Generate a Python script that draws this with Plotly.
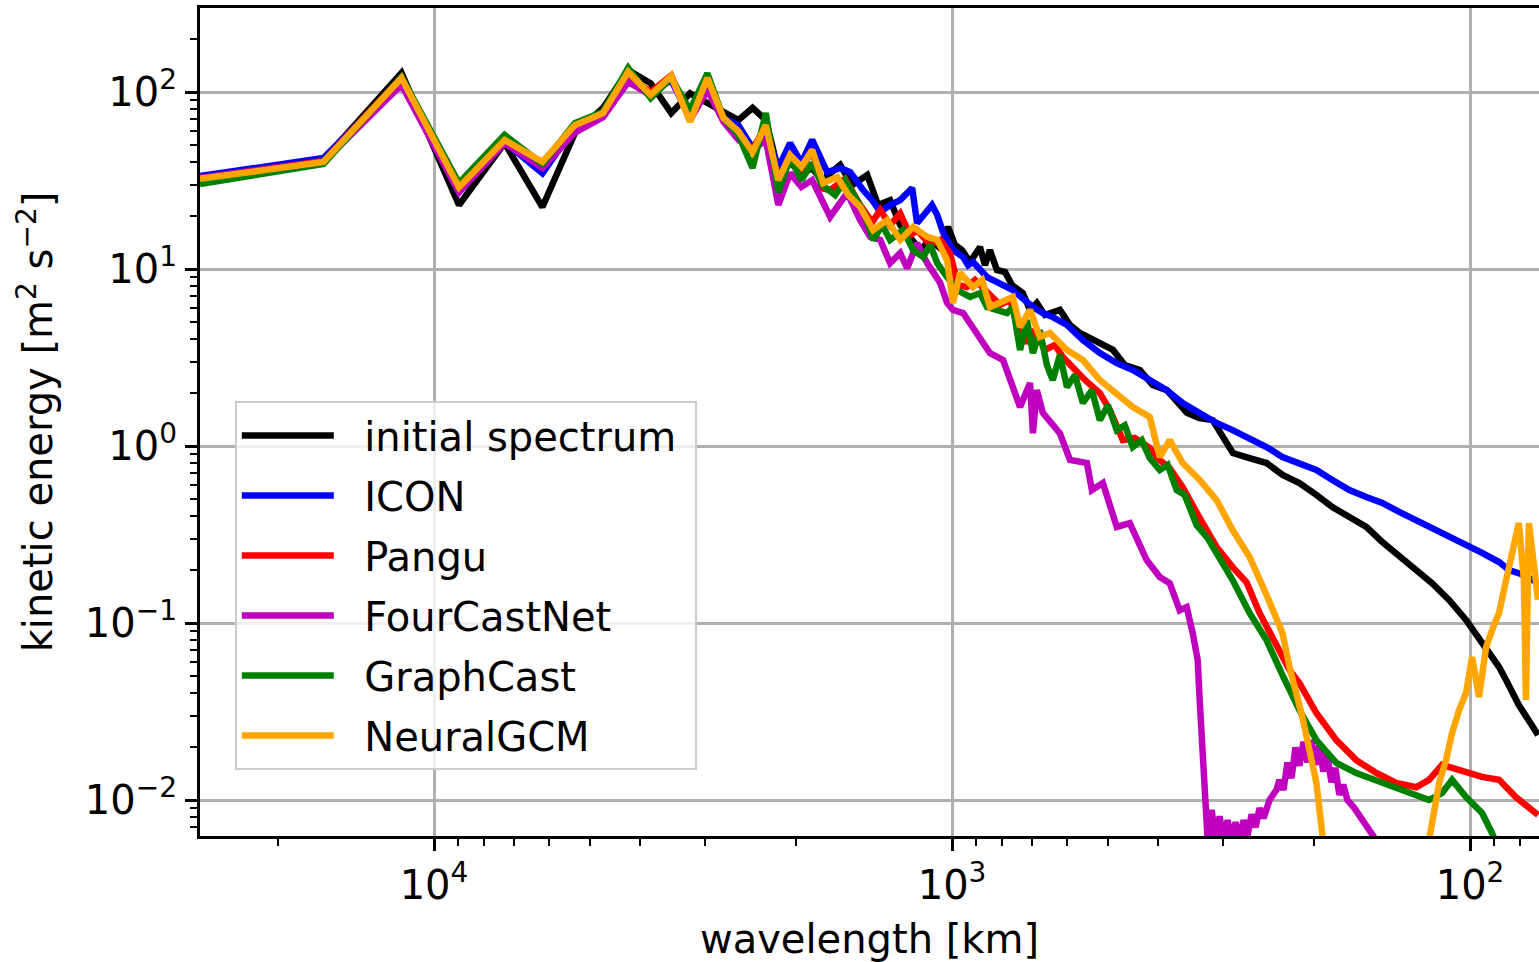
import math
import plotly.graph_objects as go

# ---------------- data (wavelength in km, kinetic energy in m^2 s^-2) ----------------
# wavelengths of the first 21 spherical-harmonic wavenumbers
WL_LOW = [28306, 16343, 11556, 8951, 7308, 6177, 5349, 4718, 4219, 3817, 3484,
          3205, 2967, 2762, 2584, 2427, 2288, 2165, 2054, 1953, 1862]

INIT_LOW = [33.1, 41.3, 128, 23.0, 51.5, 22.4, 58.6, 81.3, 133, 112, 76,
            98.3, 86.7, 77.4, 69.5, 81.3, 69.5, 36.3, 39.8, 35.0, 37.0]
ICON_LOW = [33.5, 42.4, 117, 27.2, 52.2, 34.8, 63.5, 75.1, 114, 98.3, 117,
            71.3, 110, 71.3, 65, 48.3, 61, 37.2, 51.5, 39.8, 53.6]
PANGU_LOW = [32.7, 40.8, 121, 28.6, 52.9, 39.8, 64.3, 76, 122, 100, 124,
             69.5, 117, 71.3, 55, 47, 65, 31.8, 44, 37.2, 47]
FCN_LOW = [32.7, 40.3, 110, 27.2, 51.5, 37.2, 59, 72, 114, 96, 120,
           69.5, 102.6, 68, 53.6, 47, 53.6, 23.0, 34.8, 29.1, 31.8]
GC_LOW = [30.2, 39.2, 122, 30.6, 57.2, 39.2, 66.6, 77.4, 136.7, 92.5, 120,
          79, 127.6, 71.3, 57.2, 37.2, 76, 27.2, 42.4, 31.8, 39.8]
NGCM_LOW = [32.3, 40.3, 120, 29.0, 53.6, 40.3, 65, 76, 130, 96.2, 123,
            68, 120, 71.3, 60, 45.8, 65, 31.8, 44, 37.8, 47]

# (wavelength km, energy) pairs for the shorter wavelengths
INIT_HI = [(1781, 31.8), (1644, 38.7), (1559, 29.8), (1458, 34.0), (1389, 23.0), (1317, 24.5),
           (1259, 17.7), (1194, 14.6), (1152, 12.8), (1102, 14.6), (1054, 13.1), (1018, 17.3),
           (987, 13.7), (957, 12.8), (923, 10.95), (883, 13.3), (864, 10.5), (845, 12.8),
           (819, 9.87), (790, 9.62), (766, 8.12), (730, 7.32), (707, 5.87), (686, 6.43),
           (662, 5.50), (619, 5.87), (592, 4.83), (566.5, 4.35), (530, 3.97), (489, 3.49),
           (464, 2.87), (434, 2.69), (410, 2.21), (385, 2.07), (352, 1.54), (333, 1.44),
           (314, 1.40), (298, 1.08), (287, 0.913), (266.5, 0.855), (247, 0.801), (230, 0.686),
           (213.5, 0.618), (198, 0.529), (184.4, 0.452), (171, 0.397), (158.6, 0.349),
           (147.7, 0.287), (137, 0.236), (127.1, 0.199), (118.4, 0.168), (109.8, 0.135),
           (101.8, 0.104), (94.8, 0.0771), (87.9, 0.0564), (85.2, 0.0476), (80.5, 0.0344),
           (73.9, 0.0233)]

ICON_HI = [(1742, 35.3), (1644, 37.2), (1572, 35.3), (1484, 27.9), (1426, 24.5), (1376, 21.0),
           (1317, 23.0), (1259, 24.5), (1194, 28.7), (1168, 18.2), (1127, 21.0), (1093, 23.0),
           (1068, 20.2), (1040, 16.0), (996, 12.8), (952, 11.7), (931, 10.5), (911, 10.95),
           (856, 9.01), (808, 8.33), (763, 7.61), (698, 6.10), (668, 5.64), (639, 5.35),
           (600, 4.83), (559, 3.97), (518.4, 3.35), (480.8, 2.94), (447.8, 2.69), (415.3, 2.36),
           (385.1, 2.07), (358.7, 1.75), (332.6, 1.54), (308.5, 1.35), (287.3, 1.23),
           (266.5, 1.11), (247.1, 0.987), (230.2, 0.867), (213.5, 0.801), (198, 0.732),
           (184.4, 0.643), (171, 0.564), (158.6, 0.515), (147.7, 0.477), (137, 0.424),
           (127.1, 0.382), (118.4, 0.344), (109.8, 0.306), (101.8, 0.276), (94.8, 0.249),
           (87.9, 0.221), (84.1, 0.199), (78.7, 0.187), (73.9, 0.168)]

PANGU_HI = [(1781, 28.6), (1719, 27.9), (1608, 32.3), (1504, 23.0), (1426, 18.4), (1376, 21.5),
            (1317, 17.7), (1259, 20.6), (1205, 15.5), (1168, 16.6), (1102, 13.7), (1054, 14.6),
            (1009, 12.3), (974, 8.12), (936, 7.91), (903, 8.67), (856, 7.32), (808, 6.27),
            (773, 6.68), (739, 4.52), (717, 3.82), (692, 4.52), (662, 3.49), (633, 3.72),
            (611, 3.18), (579, 2.69), (554, 2.36), (518.4, 1.99), (495.9, 1.60), (468.1, 1.08),
            (443.8, 1.11), (415.3, 0.974), (397.2, 0.834), (380, 0.75), (358.7, 0.586),
            (332.6, 0.392), (308.5, 0.269), (287.3, 0.207), (270, 0.170), (254.9, 0.114),
            (236.4, 0.0732), (223.1, 0.0542), (213.5, 0.0458), (198, 0.031), (181.2, 0.0218),
            (165.8, 0.0168), (151.7, 0.0142), (138.8, 0.0125), (127.1, 0.0118), (120, 0.0130),
            (113.2, 0.0158), (105, 0.0148), (94.8, 0.0135), (87.9, 0.0130), (81.6, 0.0104),
            (73.9, 0.00823)]

FCN_HI = [(1781, 24.5), (1719, 19.7), (1594, 26.9), (1504, 18.9), (1439, 15.2), (1376, 14.6),
          (1317, 10.8), (1259, 12.3), (1221, 10.1), (1168, 14.0), (1117, 10.8), (1054, 8.33),
          (1022, 6.43), (996, 5.87), (952, 5.64), (895, 4.35), (845, 3.35), (797, 3.06),
          (766, 2.21), (739, 1.66), (707, 2.27), (698, 1.18), (686, 2.07), (668, 1.54),
          (619, 1.18), (592, 0.834), (549, 0.801), (537, 0.564), (511.5, 0.618), (480.8, 0.349),
          (453.8, 0.367), (421, 0.227), (397.2, 0.182), (380, 0.168), (363.5, 0.118),
          (352.4, 0.123), (343.1, 0.0878), (335.6, 0.0618), (332.6, 0.0367), (326.8, 0.0130),
          (321.0, 0.0059), (315.4, 0.0088), (309.9, 0.0058), (304.4, 0.0081), (299.0, 0.0058),
          (293.8, 0.0077), (288.6, 0.0058), (283.5, 0.0075), (278.5, 0.0059), (273.6, 0.0077),
          (268.9, 0.0063), (264.1, 0.0083), (259.5, 0.0070), (254.9, 0.0090), (250.4, 0.0079),
          (243.8, 0.0100), (236.4, 0.0114), (233.3, 0.0130), (229.2, 0.0114), (225.1, 0.0163),
          (221.1, 0.0133), (217.3, 0.0198), (213.5, 0.0156), (209.7, 0.0213), (206.0, 0.0163),
          (202.4, 0.0218), (198.9, 0.0158), (195.4, 0.0205), (192.0, 0.0145), (188.6, 0.0180),
          (185.2, 0.0126), (182.0, 0.0152), (178.8, 0.0107), (175.7, 0.0122), (172.5, 0.0100),
          (167.2, 0.0090), (161.4, 0.0077), (151.7, 0.0059), (143.2, 0.0046)]

GC_HI = [(1781, 29.8), (1681, 26.2), (1608, 31.8), (1538, 25.5), (1471, 20.2), (1420, 14.6),
         (1364, 17.7), (1317, 14.6), (1243, 16.6), (1189, 12.8), (1137, 11.7), (1102, 13.7),
         (1068, 10.8), (1022, 9.01), (978, 7.61), (923, 6.95), (883, 7.32), (856, 6.10),
         (808, 5.87), (783, 5.64), (763, 6.1), (739, 3.49), (717, 5.15), (698, 3.35),
         (677, 4.52), (656, 2.87), (639, 2.36), (619, 3.27), (600, 2.15), (579, 2.52),
         (559, 1.75), (537, 2.07), (518.4, 1.40), (500, 1.70), (480.8, 1.23), (464, 1.31),
         (447.8, 0.987), (430.3, 1.08), (415.3, 0.855), (397.2, 0.732), (383.4, 0.781),
         (368.4, 0.564), (355.5, 0.529), (337.1, 0.357), (321, 0.302), (308.5, 0.249),
         (287.3, 0.175), (266.5, 0.114), (247.1, 0.0801), (230.2, 0.0508), (213.5, 0.0322),
         (198, 0.0218), (181.2, 0.0162), (165.8, 0.0142), (147.7, 0.0125), (131.1, 0.01095),
         (120, 0.0100), (113.2, 0.01095), (108.3, 0.0130), (101.8, 0.0104), (94.8, 0.00844),
         (90.7, 0.00651), (87.9, 0.0052)]

NGCM_HI = [(1773, 30.6), (1666, 33.1), (1586, 26.2), (1504, 22.4), (1420, 16.6), (1334, 18.9),
           (1259, 14.6), (1189, 17.3), (1117, 15.2), (1068, 14.6), (1022, 11.2), (996, 6.43),
           (965, 9.49), (911, 7.91), (875, 8.67), (845, 6.10), (808, 6.43), (763, 6.95),
           (739, 4.70), (707, 5.87), (677, 4.13), (647, 4.35), (600, 3.49), (559, 3.06),
           (518.4, 2.36), (480.8, 1.99), (447.8, 1.66), (415.3, 1.46), (397.2, 0.867),
           (380, 1.08), (358.7, 0.801), (332.6, 0.643), (308.5, 0.495), (287.3, 0.335),
           (266.5, 0.236), (247.1, 0.144), (230.2, 0.0878), (223.1, 0.0564), (210.7, 0.0294),
           (198, 0.0125), (192.8, 0.00651), (190.3, 0.0046), (149.7, 0.002), (120, 0.00594),
           (114.7, 0.0125), (111.3, 0.0168), (108.3, 0.0239), (105, 0.0322), (101.8, 0.0402),
           (99.1, 0.0643), (96.1, 0.0382), (93.1, 0.0732), (89.9, 0.0974), (87.9, 0.114),
           (86.0, 0.154), (84.1, 0.207), (82.3, 0.276), (80.5, 0.367), (78.7, 0.175),
           (78.0, 0.0367), (77.0, 0.367), (75.3, 0.227), (73.9, 0.135)]

SERIES_NAMES = ["initial spectrum", "ICON", "Pangu", "FourCastNet", "GraphCast", "NeuralGCM"]
SERIES_COLORS = ["#000000", "#0000ff", "#ff0000", "#bf00bf", "#008000", "#ffa500"]
SERIES_LOW = [INIT_LOW, ICON_LOW, PANGU_LOW, FCN_LOW, GC_LOW, NGCM_LOW]
SERIES_HI = [INIT_HI, ICON_HI, PANGU_HI, FCN_HI, GC_HI, NGCM_HI]

X_TICKS = [1e4, 1e3, 1e2]
X_TICKTEXT = ["10<sup>4</sup>", "10<sup>3</sup>", "10<sup>2</sup>"]
Y_TICKS = [1e-2, 1e-1, 1e0, 1e1, 1e2]
Y_TICKTEXT = ["10<sup>\u22122</sup>", "10<sup>\u22121</sup>", "10<sup>0</sup>",
              "10<sup>1</sup>", "10<sup>2</sup>"]
X_LIMITS = [28300, 73.6]     # km, axis runs from long to short wavelengths
Y_LIMITS = [0.00626, 298.4]

# ---------------- figure ----------------
NBSP = "\u00a0"
fig = go.Figure()
for name, color, low, hi in zip(SERIES_NAMES, SERIES_COLORS, SERIES_LOW, SERIES_HI):
    xs = WL_LOW + [p[0] for p in hi]
    ys = low + [p[1] for p in hi]
    fig.add_trace(go.Scatter(x=xs, y=ys, mode="lines",
                             name=NBSP * 2 + name + NBSP, legendgroup=name,
                             line=dict(color=color, width=6.5)))

x_minor = [k * 10 ** e for e in range(1, 5) for k in range(2, 10)]
x_minor = [v for v in x_minor if X_LIMITS[1] <= v <= X_LIMITS[0]]
y_minor = [k * 10 ** e for e in range(-3, 3) for k in range(2, 10)]
y_minor = [v for v in y_minor if Y_LIMITS[0] <= v <= Y_LIMITS[1]]

FONT = "DejaVu Sans"
fig.update_layout(
    width=1539, height=962,
    margin=dict(l=200, r=0, t=8, b=126),
    paper_bgcolor="white", plot_bgcolor="white",
    font=dict(family=FONT, size=40, color="black"),
    showlegend=True,
    legend=dict(x=0.026, y=0.5254, xanchor="left", yanchor="top",
                bgcolor="rgba(255,255,255,0.8)", bordercolor="#cccccc", borderwidth=2,
                font=dict(family=FONT, size=40, color="black"),
                itemwidth=92, tracegroupgap=5, traceorder="grouped"),
    xaxis=dict(type="log", range=[math.log10(X_LIMITS[0]), math.log10(X_LIMITS[1])],
               tickmode="array", tickvals=X_TICKS, ticktext=X_TICKTEXT,
               tickfont=dict(family=FONT, size=40),
               ticks="outside", ticklen=12, tickwidth=2.5, tickcolor="black",
               showgrid=True, gridcolor="#b0b0b0", gridwidth=2.5,
               showline=True, linecolor="black", linewidth=3, mirror=True,
               zeroline=False,
               minor=dict(tickmode="array", tickvals=x_minor, ticks="outside", ticklen=7,
                          tickwidth=2, tickcolor="black", showgrid=False),
               title=dict(text="wavelength [km]", font=dict(family=FONT, size=40), standoff=18)),
    yaxis=dict(type="log", range=[math.log10(Y_LIMITS[0]), math.log10(Y_LIMITS[1])],
               tickmode="array", tickvals=Y_TICKS, ticktext=Y_TICKTEXT,
               tickfont=dict(family=FONT, size=40),
               ticks="outside", ticklen=12, tickwidth=2.5, tickcolor="black",
               showgrid=True, gridcolor="#b0b0b0", gridwidth=2.5,
               showline=True, linecolor="black", linewidth=3,
               zeroline=False,
               minor=dict(tickmode="array", tickvals=y_minor, ticks="outside", ticklen=7,
                          tickwidth=2, tickcolor="black", showgrid=False),
               title=dict(text="kinetic energy [m<sup>2</sup> s<sup>\u22122</sup>]",
                          font=dict(family=FONT, size=40), standoff=20)),
)

fig.write_html("out.html")
